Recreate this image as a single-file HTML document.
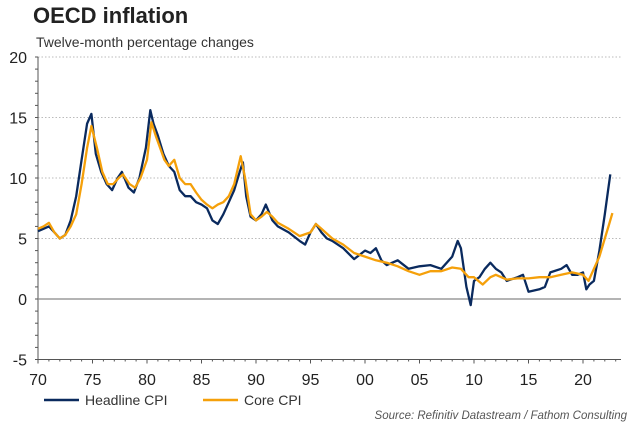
<!DOCTYPE html>
<html><head><meta charset="utf-8"><style>
body{margin:0;background:#fff;font-family:"Liberation Sans",Arial,sans-serif;}
svg text{font-family:"Liberation Sans",Arial,sans-serif;}
</style></head><body>
<svg id="c" width="639" height="426" viewBox="0 0 639 426" xmlns="http://www.w3.org/2000/svg">
<text x="33" y="23" font-size="22" font-weight="bold" fill="#222">OECD inflation</text>
<text x="36" y="47" font-size="14" fill="#333">Twelve-month percentage changes</text>
<g id="grid"></g><g id="axes"></g><g id="series"></g>
<g>
<line x1="44" y1="400" x2="79" y2="400" stroke="#0a2a5e" stroke-width="2.5"/>
<text x="85" y="405" font-size="14" fill="#333">Headline CPI</text>
<line x1="203" y1="400" x2="238" y2="400" stroke="#f5a00a" stroke-width="2.5"/>
<text x="244" y="405" font-size="14" fill="#333">Core CPI</text>
</g>
<text x="627" y="419" font-size="11.5" font-style="italic" fill="#555" text-anchor="end">Source: Refinitiv Datastream / Fathom Consulting</text>
</svg>
<script>
const yTicks=[20,15,10,5,0,-5];
const xTickYears=[1970,1975,1980,1985,1990,1995,2000,2005,2010,2015,2020];
const xTickLabels=["70","75","80","85","90","95","00","05","10","15","20"];
const headYears=[1970,1970.5,1971,1971.5,1972,1972.5,1973,1973.5,1974,1974.5,1974.9,1975.3,1975.8,1976.3,1976.8,1977.3,1977.7,1978.3,1978.8,1979.3,1979.9,1980.3,1980.6,1981,1981.5,1982,1982.5,1983,1983.5,1984,1984.5,1985,1985.5,1986,1986.5,1987,1987.5,1988,1988.5,1988.8,1989.1,1989.5,1990,1990.5,1990.9,1991.5,1992,1993,1994,1994.5,1995,1995.5,1996,1996.5,1997,1998,1999,2000,2000.5,2001,2001.5,2002,2003,2004,2005,2006,2007,2008,2008.5,2008.8,2009.3,2009.7,2010,2010.5,2011,2011.5,2012,2012.5,2013,2014,2014.5,2015,2015.5,2016,2016.5,2017,2018,2018.5,2019,2019.5,2020,2020.3,2020.6,2021,2021.5,2022,2022.3,2022.5];
const headValues=[5.6,5.8,6.0,5.5,5.0,5.3,6.5,8.5,11.5,14.5,15.3,12.0,10.5,9.5,9.0,10.0,10.5,9.2,8.8,10.0,12.5,15.6,14.5,13.5,12.0,11.0,10.5,9.0,8.5,8.5,8.0,7.8,7.5,6.5,6.2,7.0,8.0,9.0,10.5,11.3,8.5,6.8,6.5,7.0,7.8,6.5,6.0,5.5,4.8,4.5,5.5,6.2,5.5,5.0,4.8,4.2,3.3,4.0,3.8,4.2,3.2,2.8,3.2,2.5,2.7,2.8,2.5,3.5,4.8,4.2,1.0,-0.5,1.5,1.8,2.5,3.0,2.5,2.2,1.5,1.8,2.0,0.6,0.7,0.8,1.0,2.2,2.5,2.8,2.0,2.0,2.2,0.8,1.2,1.5,4.0,7.0,9.0,10.3];
const coreYears=[1970,1970.5,1971,1971.5,1972,1972.5,1973,1973.5,1974,1974.5,1974.9,1975.4,1975.9,1976.4,1976.9,1977.4,1977.8,1978.4,1978.9,1979.4,1980,1980.4,1980.8,1981.2,1981.6,1982,1982.5,1983,1983.5,1984,1984.5,1985,1985.5,1986,1986.5,1987,1987.5,1988,1988.6,1989,1989.5,1990,1990.5,1991,1991.5,1992,1993,1994,1995,1995.5,1996,1997,1998,1999,2000,2001,2002,2003,2004,2005,2006,2007,2008,2008.8,2009.5,2010,2010.8,2011.5,2012,2013,2014,2015,2016,2017,2018,2019,2020,2020.5,2021,2021.5,2022,2022.4,2022.7];
const coreValues=[5.8,6.0,6.3,5.5,5.0,5.3,6.0,7.0,9.5,12.5,14.3,12.5,10.5,9.5,9.5,10.0,10.3,9.5,9.2,10.0,11.5,14.6,13.5,12.5,11.5,11.0,11.5,10.0,9.5,9.5,8.8,8.2,7.8,7.5,7.8,8.0,8.5,9.5,11.8,10.0,7.0,6.5,6.8,7.2,6.8,6.3,5.8,5.2,5.5,6.2,5.8,5.0,4.5,3.8,3.5,3.2,3.0,2.7,2.3,2.0,2.3,2.3,2.6,2.5,1.8,1.8,1.2,1.8,2.0,1.6,1.7,1.7,1.8,1.8,2.0,2.2,2.0,1.5,2.5,3.5,5.0,6.2,7.1];
const X=y=>38+(y-1970)*10.9;
const Y=v=>299-v*12.1;
const NS="http://www.w3.org/2000/svg";
function mk(tag,attrs,parent){const e=document.createElementNS(NS,tag);for(const k in attrs)e.setAttribute(k,attrs[k]);parent.appendChild(e);return e;}
const grid=document.getElementById('grid'),axes=document.getElementById('axes'),ser=document.getElementById('series');
yTicks.forEach(v=>{
 if(v!==0&&v!==-5){const g=mk('line',{x1:38,x2:621,y1:Y(v),y2:Y(v),stroke:'#bbb','stroke-dasharray':'1.5 2','stroke-width':1},grid);
 
 }
 const t=mk('text',{x:27,y:Y(v)+6,'font-size':16,fill:'#222','text-anchor':'end'},axes);t.textContent=v;
 
 
});
for(let v=-5;v<=20;v++){mk('line',{x1:35,x2:38,y1:Y(v),y2:Y(v),stroke:'#555','stroke-width':1},axes);}
const ya=mk('line',{x1:38,x2:38,y1:Y(20),y2:Y(-5),stroke:'#555','stroke-width':1},axes);


const xa=mk('line',{x1:38,x2:621,y1:Y(-5),y2:Y(-5),stroke:'#555','stroke-width':1},axes);


const zl=mk('line',{x1:38,x2:621,y1:Y(0),y2:Y(0),stroke:'#888','stroke-width':1.2},axes);


for(let y=1970;y<=2023;y++){mk('line',{x1:X(y),x2:X(y),y1:Y(-5),y2:Y(-5)+(y%5===0?4:2),stroke:'#555'},axes);}
xTickYears.forEach((y,i)=>{const t=mk('text',{x:X(y),y:385,'font-size':16,fill:'#222','text-anchor':'middle'},axes);t.textContent=xTickLabels[i];
 
 });
function path(xs,vs,col,name){const d=xs.map((y,i)=>(i?'L':'M')+X(y).toFixed(1)+' '+Y(vs[i]).toFixed(1)).join(' ');
 const p=mk('path',{d:d,fill:'none',stroke:col,'stroke-width':2.3,'stroke-linejoin':'round'},ser);
 
 }
path(headYears,headValues,'#0a2a5e','headline-cpi-line');
path(coreYears,coreValues,'#f5a00a','core-cpi-line');
</script>
</body></html>
